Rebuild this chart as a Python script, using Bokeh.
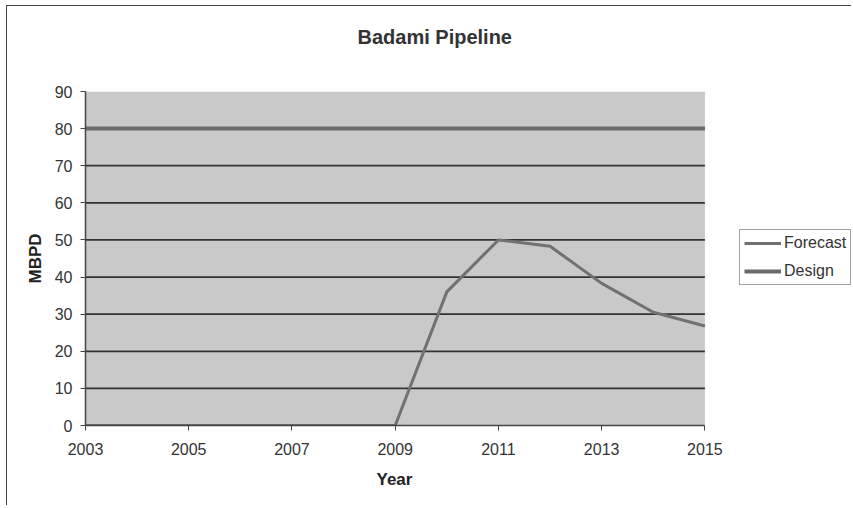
from bokeh.plotting import figure
from bokeh.models import Legend, LegendItem, FixedTicker, Range1d, BoxAnnotation, LinearAxis, Title
from bokeh.embed import file_html
from bokeh.resources import INLINE

years = [2003, 2004, 2005, 2006, 2007, 2008, 2009, 2010, 2011, 2012, 2013, 2014, 2015]
forecast = [0, 0, 0, 0, 0, 0, 0, 36, 50, 48.3, 38.3, 30.5, 26.8]
design = [80, 80, 80, 80, 80, 80, 80, 80, 80, 80, 80, 80, 80]
x_ticks = [2003, 2005, 2007, 2009, 2011, 2013, 2015]
y_ticks = [0, 10, 20, 30, 40, 50, 60, 70, 80, 90]
grid_ticks = [10, 20, 30, 40, 50, 60, 70, 80]

FONT = "Liberation Sans"
X0, X1 = 2003, 2015
# frame extends past 2015 so the legend can sit to the right of the plot area
X_END = 2003 + (852.5 - 86) / ((705 - 86) / 12)

p = figure(width=845, height=500, output_backend="svg", toolbar_location=None,
           x_range=Range1d(X0, X_END), y_range=Range1d(0, 90),
           min_border_left=78, min_border_right=0, min_border_top=85, min_border_bottom=81)
p.styles = {"margin-left": "6px", "margin-top": "5px",
            "border-left": "1.5px solid #444", "border-top": "1.5px solid #444"}

xa = p.below[0]
ya = p.left[0]

p.title.text = "Badami Pipeline"
p.title.text_font = FONT
p.title.text_font_size = "20px"
p.title.text_font_style = "bold"
p.title.text_color = "#333333"
p.title.align = "left"
p.title.offset = 272
p.title.standoff = 0

p.background_fill_color = "white"
p.border_fill_color = "white"
p.outline_line_color = None

plot_bg = BoxAnnotation(left=X0, right=X1, bottom=0, top=90, fill_color="#c9c9c9",
                        fill_alpha=1, line_color="#d4d4d4", line_width=1, level="image")
p.add_layout(plot_bg)

p.xgrid.grid_line_color = None
p.ygrid.grid_line_color = None
p.segment(x0=[X0] * len(grid_ticks), y0=grid_ticks, x1=[X1] * len(grid_ticks), y1=grid_ticks,
          line_color="#333333", line_width=1.8)

for ax in (xa, ya):
    ax.axis_line_color = "#444444"
    ax.axis_line_width = 1.5
    ax.major_tick_line_color = "#444444"
    ax.major_tick_out = 5
    ax.major_tick_in = 0
    ax.minor_tick_line_color = None
    ax.major_label_text_font = FONT
    ax.major_label_text_font_size = "16px"
    ax.major_label_text_color = "#333333"
    ax.axis_label_text_font = FONT
    ax.axis_label_text_font_size = "17px"
    ax.axis_label_text_font_style = "bold"
    ax.axis_label_text_color = "#222222"

xa.ticker = FixedTicker(ticks=x_ticks)
xa.bounds = (X0, X1)
ya.ticker = FixedTicker(ticks=y_ticks)
ya.axis_label = "MBPD"
xa.major_label_standoff = 12
ya.major_label_standoff = 8
ya.axis_label_standoff = 7

# invisible spacer between the title and the plot area
spacer = LinearAxis(ticker=FixedTicker(ticks=[]), axis_line_color=None,
                    major_tick_out=0, major_tick_in=0, minor_tick_out=0, minor_tick_in=0,
                    major_tick_line_color=None, minor_tick_line_color=None,
                    major_label_text_font_size="0px", axis_label=" ",
                    axis_label_text_font_size="20px", axis_label_standoff=19)
p.add_layout(spacer, "above")

# x axis title centred under the plot area
year_title = Title(text="Year", align="left", offset=291, standoff=20,
                   text_font=FONT, text_font_size="17px", text_font_style="bold",
                   text_color="#222222")
p.add_layout(year_title, "below")

r_design = p.line(years, design, line_color="#6a6a6a", line_width=4)
r_fc = p.line(years, forecast, line_color="#717171", line_width=3)

legend = Legend(items=[LegendItem(label="Forecast", renderers=[r_fc]),
                       LegendItem(label="Design", renderers=[r_design])],
                location=(654, 140))
legend.label_text_font = FONT
legend.label_text_font_size = "16px"
legend.label_text_color = "#333333"
legend.border_line_color = "#444444"
legend.border_line_width = 1
legend.background_fill_color = "white"
legend.glyph_width = 37
legend.glyph_height = 18
legend.label_height = 18
legend.spacing = 10
legend.padding = 4
legend.margin = 0
legend.label_standoff = 3
p.add_layout(legend)

open("out.html", "w").write(file_html(p, INLINE))
